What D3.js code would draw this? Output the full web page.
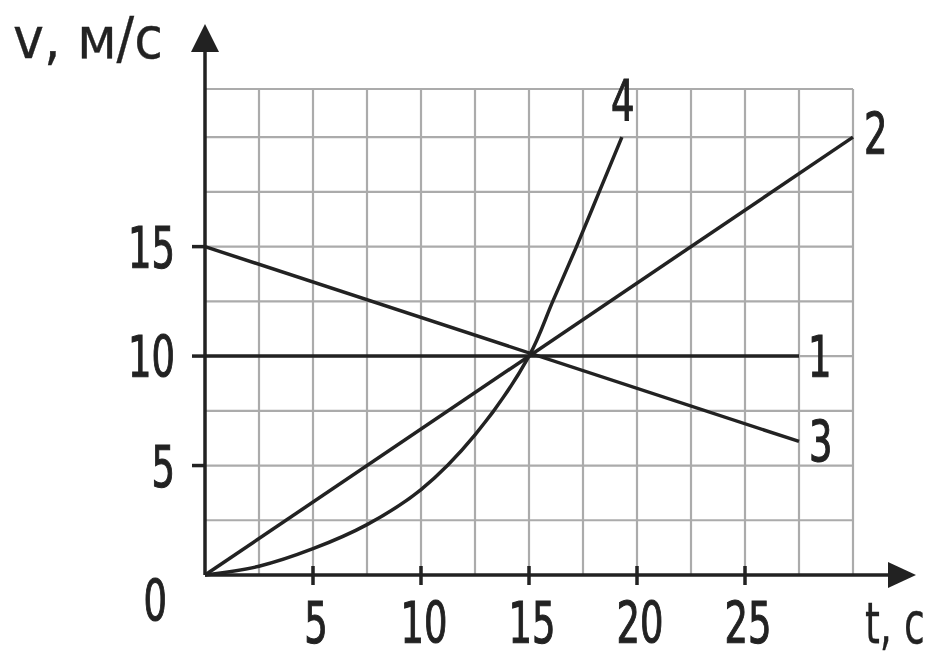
<!DOCTYPE html>
<html>
<head>
<meta charset="utf-8">
<script src="https://cdn.jsdelivr.net/npm/d3@7"></script>
<style>
  body { margin: 0; background: #fff; }
  text { font-family: "Liberation Sans Narrow", "DejaVu Sans Condensed", "DejaVu Sans", sans-serif; font-size: 57px; fill: #222; stroke: #222; stroke-width: 1.1px; }
  text.title { stroke-width: 0.3px; }
</style>
</head>
<body>
<div id="chart"></div>
<script>
// tick labels
var xTicks = [5, 10, 15, 20, 25];
var yTicks = [5, 10, 15];

// series: [t, v]
var line1 = [[0, 10], [27.5, 10]];
var line2 = [[0, 0], [30, 20]];
var line3 = [[0, 15], [27.5, 6.1]];
var line4 = [[0, 0], [2.5, 0.4], [5, 1.2], [7.5, 2.3], [10, 3.9], [12.5, 6.4],
             [15, 10], [16.1, 12.5], [17.2, 15], [18.25, 17.5], [19.3, 20]];
var seriesNames = ["1", "2", "3", "4"];

var width = 939, height = 661;
var svg = d3.select("#chart").append("svg").attr("width", width).attr("height", height);

var x = d3.scaleLinear().domain([0, 30]).range([205, 853]);
var y = d3.scaleLinear().domain([0, 22.2]).range([575, 89]);

// narrow text: the source font is condensed, squeeze horizontally
function label(px, py, str, anchor, sx) {
    return svg.append("text")
        .attr("transform", "translate(" + px + "," + py + ") scale(" + (sx || 0.72) + ",1)")
        .attr("text-anchor", anchor || "start")
        .text(str);
}

// grid
var grid = svg.append("g").attr("stroke", "#ababab").attr("stroke-width", 2.2);
d3.range(2.5, 30.01, 2.5).forEach(function(t){
    grid.append("line").attr("x1", x(t)).attr("x2", x(t)).attr("y1", y(0)).attr("y2", y(22.2));
});
d3.range(2.5, 20.01, 2.5).concat([22.2]).forEach(function(v){
    grid.append("line").attr("x1", x(0)).attr("x2", x(30)).attr("y1", y(v)).attr("y2", y(v));
});

// axes with arrows
var ax = svg.append("g").attr("stroke", "#222").attr("stroke-width", 3.5);
ax.append("line").attr("x1", x(0)).attr("x2", 892).attr("y1", y(0)).attr("y2", y(0));
ax.append("line").attr("x1", x(0)).attr("x2", x(0)).attr("y1", y(0)).attr("y2", 48);
svg.append("path").attr("d", "M888,562 L916,575 L888,588 Z").attr("fill", "#222");
svg.append("path").attr("d", "M191,52 L205,24 L219,52 Z").attr("fill", "#222");

// ticks
xTicks.forEach(function(t){
    ax.append("line").attr("x1", x(t)).attr("x2", x(t)).attr("y1", y(0) - 9).attr("y2", y(0) + 10);
});
yTicks.forEach(function(v){
    ax.append("line").attr("x1", x(0) - 13).attr("x2", x(0)).attr("y1", y(v)).attr("y2", y(v));
});

// tick labels
xTicks.forEach(function(t){ label(x(t) + 3, 643, t, "middle"); });
yTicks.forEach(function(v){ label(175, y(v) + 21, v, "end"); });
label(167, 621, "0", "end");

// axis titles
label(13, 58, "v, м/с", "start", 1.02).attr("class", "title");
label(865, 643, "t, с", "start", 0.74).attr("class", "title");

// curves
var line = d3.line()
    .x(function(d){ return x(d[0]); })
    .y(function(d){ return y(d[1]); });
var smooth = d3.line()
    .x(function(d){ return x(d[0]); })
    .y(function(d){ return y(d[1]); })
    .curve(d3.curveCatmullRom.alpha(0.5));

[line1, line2, line3].forEach(function(s){
    svg.append("path").datum(s).attr("d", line)
        .attr("fill", "none").attr("stroke", "#222").attr("stroke-width", 3.5);
});
svg.append("path").datum(line4).attr("d", smooth)
    .attr("fill", "none").attr("stroke", "#222").attr("stroke-width", 3.5);

// line numbers next to their ends
var ends = [line1[line1.length - 1], line2[line2.length - 1], line3[line3.length - 1], line4[line4.length - 1]];
var offs = [[9, 21], [11, 17], [10, 21], [-11, -16]];
ends.forEach(function(e, i){
    label(x(e[0]) + offs[i][0], y(e[1]) + offs[i][1], seriesNames[i]);
});
</script>
</body>
</html>
